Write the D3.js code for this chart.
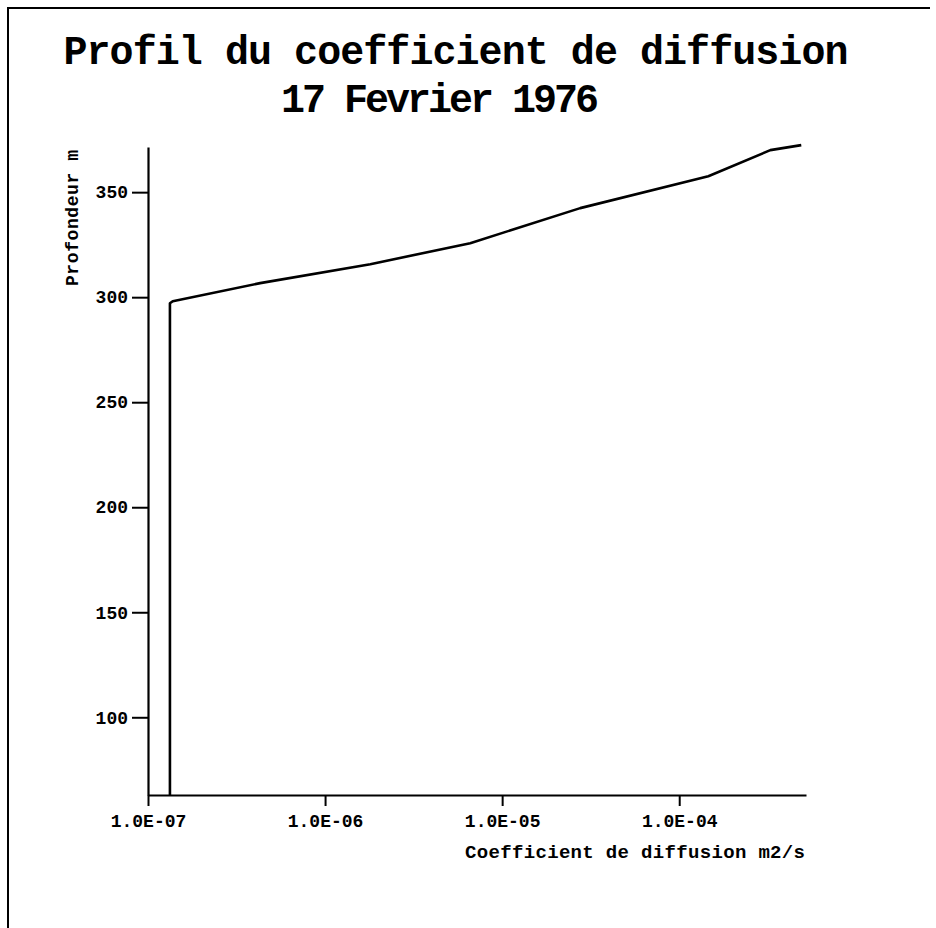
<!DOCTYPE html>
<html>
<head>
<meta charset="utf-8">
<script src="https://cdn.jsdelivr.net/npm/d3@7"></script>
<style>
  body { margin: 0; background: #fff; }
  svg text { font-family: "Liberation Mono", "DejaVu Sans Mono", monospace; font-weight: bold; fill: #000; font-variant-ligatures: none; }
</style>
</head>
<body>
<svg id="chart" width="936" height="928"></svg>
<script>
// Profile values
const coefficient = [1.33e-7, 1.33e-7, 1.38e-7, 4.3e-7, 1.8e-6, 6.6e-6, 2.76e-5, 1.46e-4, 3.27e-4, 4.89e-4];
const depth = [63, 297.1, 298.1, 306.7, 315.7, 325.7, 342.4, 357.6, 370.0, 372.4];

const xTicks = [1e-7, 1e-6, 1e-5, 1e-4];
const xTickLabels = ["1.0E-07", "1.0E-06", "1.0E-05", "1.0E-04"];
const yTicks = [100, 150, 200, 250, 300, 350];

const titleLines = ["Profil du coefficient de diffusion", "17 Fevrier 1976"];
const xTitle = "Coefficient de diffusion m2/s";
const yTitle = "Profondeur m";

function drawChart() {
    const svg = d3.select("#chart");

    // page frame (left and top edges only, like the scan)
    svg.append("path")
        .attr("d", "M8,928 L8,8 L930,8")
        .style("fill", "none")
        .style("stroke", "#000")
        .style("stroke-width", 2);

    const xScale = d3.scaleLog()
        .domain([1e-7, 5.2e-4])
        .range([148, 806]);

    const yScale = d3.scaleLinear()
        .domain([63, 371.5])
        .range([795, 147]);

    // titles
    svg.append("text")
        .attr("x", 456).attr("y", 64)
        .attr("text-anchor", "middle")
        .attr("textLength", 785)
        .style("font-size", "40px")
        .text(titleLines[0]);
    svg.append("text")
        .attr("x", 440).attr("y", 112)
        .attr("text-anchor", "middle")
        .attr("textLength", 318)
        .style("font-size", "40px")
        .text(titleLines[1]);

    // axes
    const xAxis = svg.append("g")
        .attr("transform", `translate(0,${yScale.range()[0]})`)
        .call(d3.axisBottom(xScale)
            .tickValues(xTicks)
            .tickFormat((d, i) => xTickLabels[i])
            .tickSize(11)
            .tickSizeOuter(0)
            .tickPadding(8));

    const yAxis = svg.append("g")
        .attr("transform", `translate(${xScale.range()[0]},0)`)
        .call(d3.axisLeft(yScale)
            .tickValues(yTicks)
            .tickSize(16)
            .tickSizeOuter(0)
            .tickPadding(4));

    [xAxis, yAxis].forEach(g => {
        g.select(".domain").style("stroke-width", 2.2);
        g.selectAll(".tick line").style("stroke-width", 2);
        g.selectAll(".tick text").style("font-size", "18px").attr("fill", "#000");
    });

    svg.append("text")
        .attr("x", 465).attr("y", 858)
        .attr("textLength", 340)
        .style("font-size", "19px")
        .text(xTitle);

    svg.append("text")
        .attr("transform", "translate(78,286) rotate(-90)")
        .attr("textLength", 136)
        .style("font-size", "18px")
        .text(yTitle);

    // profile line
    const line = d3.line()
        .x((d, i) => xScale(coefficient[i]))
        .y(d => yScale(d));

    svg.append("path")
        .datum(depth)
        .attr("d", line)
        .style("fill", "none")
        .style("stroke", "#000")
        .style("stroke-width", 2.6)
        .style("stroke-linejoin", "round");
}

document.addEventListener('DOMContentLoaded', () => {
    drawChart();
});
</script>
</body>
</html>
